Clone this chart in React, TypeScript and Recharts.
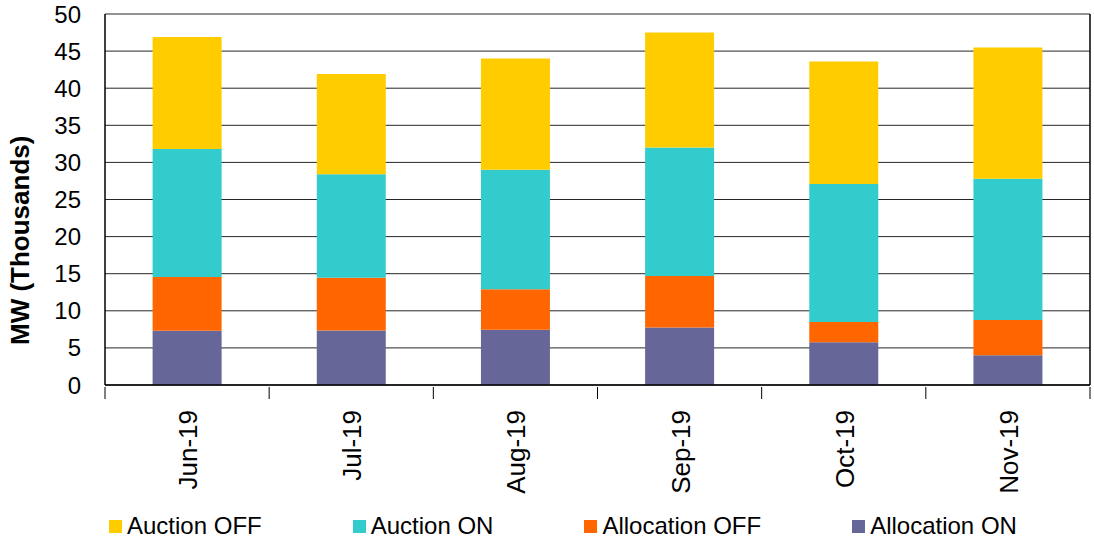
import { BarChart, Bar, XAxis, YAxis, CartesianGrid, Legend } from "recharts";

const months = ["Jun-19", "Jul-19", "Aug-19", "Sep-19", "Oct-19", "Nov-19"];
const allocationOn = [7.3, 7.35, 7.45, 7.75, 5.75, 4.0];
const allocationOff = [7.25, 7.1, 5.45, 6.95, 2.75, 4.75];
const auctionOn = [17.25, 13.95, 16.1, 17.3, 18.6, 19.05];
const auctionOff = [15.1, 13.5, 15.0, 15.5, 16.5, 17.7];
const yTicks = [0, 5, 10, 15, 20, 25, 30, 35, 40, 45, 50];
const legendOrder = ["Auction OFF", "Auction ON", "Allocation OFF", "Allocation ON"];

const FONT = "Arial, 'Liberation Sans', sans-serif";

const data = months.map((m, i) => ({
  month: m,
  allocationOn: allocationOn[i],
  allocationOff: allocationOff[i],
  auctionOn: auctionOn[i],
  auctionOff: auctionOff[i],
}));

function MonthTick(props: any) {
  const { x, y, payload, width, visibleTicksCount, index } = props;
  const bw = width / visibleTicksCount;
  const last = index === visibleTicksCount - 1;
  return (
    <g>
      <line x1={x - bw / 2} x2={x - bw / 2} y1={y - 6} y2={y + 6} stroke="#000" />
      {last && <line x1={x + bw / 2} x2={x + bw / 2} y1={y - 6} y2={y + 6} stroke="#000" />}
      <text
        x={x + 1}
        y={y + 17}
        transform={`rotate(-90 ${x + 1} ${y + 17})`}
        textAnchor="end"
        dominantBaseline="central"
        fontSize={26}
        fontFamily={FONT}
        fill="#000"
      >
        {payload.value}
      </text>
    </g>
  );
}

function LegendBox({ payload }: any) {
  const items = [...(payload || [])].sort(
    (a: any, b: any) => legendOrder.indexOf(a.value) - legendOrder.indexOf(b.value)
  );
  return (
    <div style={{ display: "flex", paddingLeft: 109, gap: 91, height: 40, alignItems: "center", position: "relative", top: 6, fontFamily: FONT, fontSize: 24, color: "#000" }}>
      {items.map((p: any) => (
        <div key={p.value} style={{ display: "flex", alignItems: "center" }}>
          <span style={{ display: "inline-block", width: 13, height: 13, background: p.color, marginRight: 5 }} />
          <span>{p.value}</span>
        </div>
      ))}
    </div>
  );
}

export default function App() {
  return (
    <div style={{ position: "absolute", left: 0, top: 0, background: "#fff" }}>
      <BarChart
        width={1094}
        height={540}
        data={data}
        margin={{ top: 14, right: 3, left: 0, bottom: 0 }}
        barCategoryGap="29%"
      >
        <CartesianGrid vertical={false} stroke="#000" strokeOpacity={0.85} />
        <XAxis
          dataKey="month"
          height={115}
          tick={<MonthTick />}
          tickLine={false}
          axisLine={{ stroke: "#000", strokeWidth: 1.5 }}
          interval={0}
        />
        <YAxis
          domain={[0, 50]}
          ticks={yTicks}
          width={105}
          tickLine={false}
          tickSize={0}
          tickMargin={24}
          axisLine={{ stroke: "#000", strokeWidth: 1.5 }}
          tick={{ fontSize: 24, fill: "#000", fontFamily: FONT }}
          label={{
            content: (p: any) => {
              const vb = p.viewBox;
              const cx = vb.x + 20;
              const cy = vb.y + vb.height * 0.61;
              return (
                <text
                  x={cx}
                  y={cy}
                  transform={`rotate(-90 ${cx} ${cy})`}
                  textAnchor="middle"
                  dominantBaseline="central"
                  fontSize={26}
                  fontWeight="bold"
                  fontFamily={FONT}
                  fill="#000"
                >
                  MW (Thousands)
                </text>
              );
            },
          }}
        />
        <YAxis
          yAxisId="r"
          orientation="right"
          width={1}
          domain={[0, 50]}
          tick={false}
          tickLine={false}
          axisLine={{ stroke: "#000", strokeWidth: 1.5 }}
        />
        <Legend verticalAlign="bottom" wrapperStyle={{ left: 0, bottom: 0, width: 1094 }} content={<LegendBox />} />
        <Bar dataKey="allocationOn" name="Allocation ON" stackId="a" fill="#666699" isAnimationActive={false} />
        <Bar dataKey="allocationOff" name="Allocation OFF" stackId="a" fill="#FF6600" isAnimationActive={false} />
        <Bar dataKey="auctionOn" name="Auction ON" stackId="a" fill="#33CCCC" isAnimationActive={false} />
        <Bar dataKey="auctionOff" name="Auction OFF" stackId="a" fill="#FFCC00" isAnimationActive={false} />
      </BarChart>
    </div>
  );
}
